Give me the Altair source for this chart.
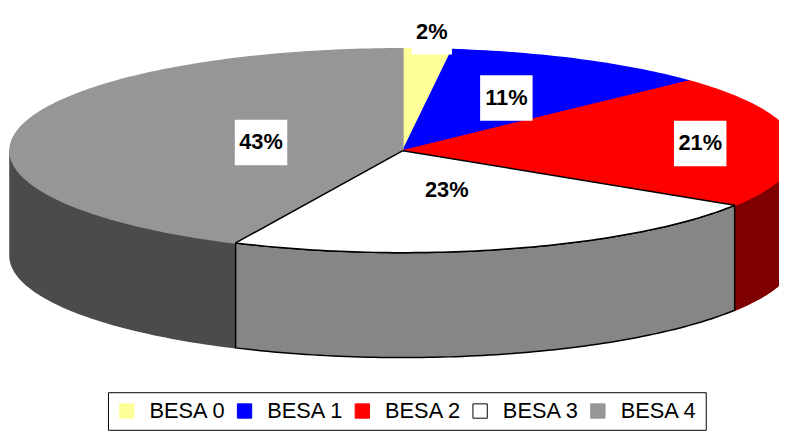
import math
import altair as alt
import pandas as pd

# ---- data ----
categories = ["BESA 0", "BESA 1", "BESA 2", "BESA 3", "BESA 4"]
values = [2, 11, 21, 23, 43]
labels = ["2%", "11%", "21%", "23%", "43%"]

# ---- styling ----
top_colors = ["#FFFF99", "#0000FF", "#FF0000", "#FFFFFF", "#969696"]
edge_colors = ["#FFFF99", "#0000FF", "#FF0000", "#000000", "#969696"]
side_colors = ["#80804C", "#000080", "#7F0000", "#868686", "#4B4B4B"]
side_edges = ["#80804C", "#000080", "#7F0000", "#000000", "#4B4B4B"]
label_radius = [1.17, 0.58, 0.76, 0.40, 0.37]

# layout of the tilted pie (in page pixel units)
CX, CY, RX, RY, DEPTH = 407, 150, 397, 103, 106
FONT = "Liberation Sans"


def pt(theta):
    r = math.radians(theta)
    return CX + RX * math.sin(r), CY - RY * math.cos(r)


def arc(t1, t2):
    n = max(2, int(math.ceil(abs(t2 - t1))) + 1)
    return [t1 + (t2 - t1) * i / (n - 1) for i in range(n)]


total = sum(values)
bounds = []
acc = 0
for v in values:
    start = acc / total * 360
    acc += v
    bounds.append((start, acc / total * 360))

draw_order = [0, 1, 2, 4, 3]  # outlined slice last

top_rows, side_rows, label_rows = [], [], []
for k in draw_order:
    t1, t2 = bounds[k]
    pts = [(CX, CY)] + [pt(t) for t in arc(t1, t2)] + [(CX, CY)]
    for i, (x, y) in enumerate(pts):
        top_rows.append({"cat": categories[k], "slice": k, "i": i, "x": x, "y": y})
    lo, hi = max(t1, 90), min(t2, 270)
    if lo < hi:
        ts = arc(lo, hi)
        spts = [pt(t) for t in ts] + [(pt(t)[0], pt(t)[1] + DEPTH) for t in reversed(ts)]
        spts.append(spts[0])
        for i, (x, y) in enumerate(spts):
            side_rows.append({"slice": k, "i": i, "x": x, "y": y,
                              "fill": side_colors[k], "edge": side_edges[k]})

for k in range(len(values)):
    t1, t2 = bounds[k]
    mid = math.radians((t1 + t2) / 2)
    lx = CX + RX * label_radius[k] * math.sin(mid)
    ly = CY - RY * label_radius[k] * math.cos(mid)
    w = (0.556 * (len(labels[k]) - 1) + 0.889) * 22 + 9
    label_rows.append({"label": labels[k], "lx": lx, "ly": ly,
                       "bx1": lx - w / 2, "bx2": lx + w / 2,
                       "by1": ly - 23, "by2": ly + 23})

tops = pd.DataFrame(top_rows)
sides = pd.DataFrame(side_rows)
labs = pd.DataFrame(label_rows)

xs = alt.Scale(domain=[8, 787], nice=False, zero=False)
ys = alt.Scale(domain=[8, 432], nice=False, zero=False, reverse=True)
X = lambda f: alt.X(f, type="quantitative", scale=xs, axis=None)
Y = lambda f: alt.Y(f, type="quantitative", scale=ys, axis=None)

side_layer = alt.Chart(sides).mark_line(strokeWidth=1.5, strokeJoin="round").encode(
    x=X("x"), y=Y("y"),
    fill=alt.Fill("fill:N", scale=None),
    stroke=alt.Stroke("edge:N", scale=None),
    detail="slice:N",
    order="i:Q",
)

leg = alt.Legend(title=None, orient="none", legendX=101, legendY=386,
                 direction="horizontal", symbolType="square", symbolSize=210,
                 symbolStrokeWidth=1, labelFont=FONT, labelFontSize=22,
                 labelColor="black", labelOffset=12, columnPadding=7,
                 padding=8, strokeColor="black", fillColor="white")

top_layer = alt.Chart(tops).mark_line(strokeWidth=1.5, strokeJoin="round").encode(
    x=X("x"), y=Y("y"),
    fill=alt.Fill("cat:N", scale=alt.Scale(domain=categories, range=top_colors), legend=leg),
    stroke=alt.Stroke("cat:N", scale=alt.Scale(domain=categories, range=edge_colors), legend=leg),
    detail="slice:N",
    order="i:Q",
)

box_layer = alt.Chart(labs).mark_rect(fill="white").encode(
    x=X("bx1"), x2="bx2", y=Y("by1"), y2="by2",
)

text_layer = alt.Chart(labs).mark_text(font=FONT, fontSize=22, fontWeight="bold",
                                       color="black", baseline="middle").encode(
    x=X("lx"), y=Y("ly"), text="label:N",
)

chart = alt.layer(side_layer, top_layer, box_layer, text_layer).properties(
    width=779, height=424, padding=0, autosize="none",
).configure_view(strokeWidth=0)

chart.save("out.html", embed_options={"renderer": "svg", "actions": False})
